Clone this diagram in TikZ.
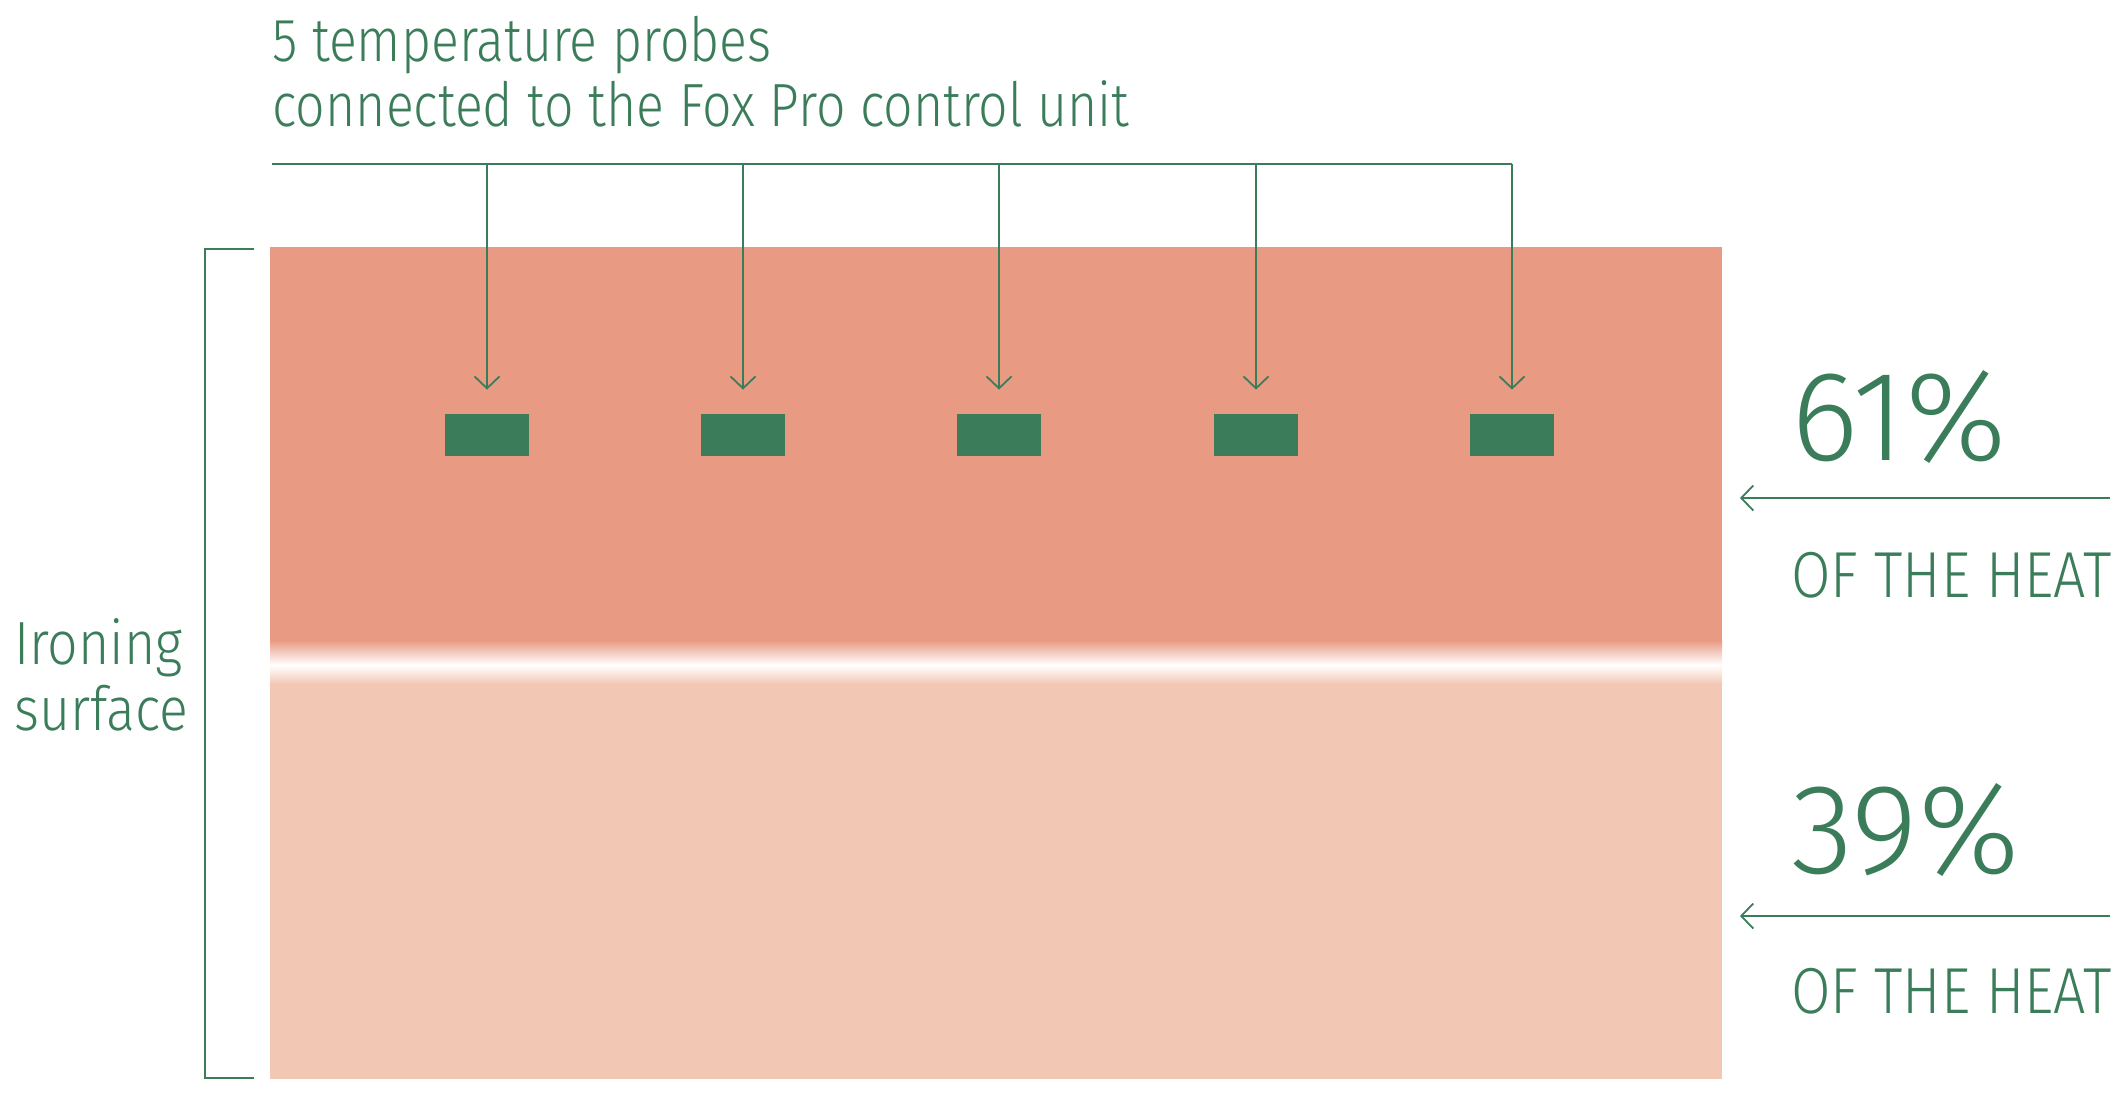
\documentclass[tikz,border=0pt]{standalone}
\usepackage{fontspec}
\setmainfont{Fira Sans Light}[FakeStretch=0.85]
\newfontfamily\surfacefont{Fira Sans Light}[FakeStretch=0.88]
\newfontfamily\sharefont{Fira Sans Light}
\usetikzlibrary{arrows.meta,positioning}
\definecolor{ProbeGreen}{HTML}{3B7D5A}
\definecolor{HotSalmon}{HTML}{E89A82}
\definecolor{WarmPeach}{HTML}{F2C8B5}

\begin{document}
\begin{tikzpicture}[
  x=0.5pt,
  y=-0.5pt,
  >={Straight Barb[length=6pt,width=12.5pt,line width=0.9pt]},
  probe/.style={
    fill=ProbeGreen,
    minimum width=42pt,
    minimum height=21pt,
    inner sep=0pt
  },
  wire/.style={draw=ProbeGreen,line width=0.9pt},
  feed/.style={wire,->,shorten >=9pt},
  label/.style={text=ProbeGreen,inner sep=0pt,anchor=base west,align=left},
  title/.style={label,font=\fontsize{30.5}{32.5}\selectfont},
  side/.style={label,font=\surfacefont\fontsize{30.5}{33}\selectfont},
  share/.style={label,font=\sharefont\fontsize{64}{64}\selectfont},
  heat/.style={label,font=\surfacefont\fontsize{32.5}{34}\selectfont}
]
\useasboundingbox (0,0) rectangle (2120,1094);

\coordinate (surfacetl) at (270,247);
\coordinate (surfacebr) at (1722,1079);

\fill[HotSalmon] (surfacetl) rectangle (1722,641);
\shade[top color=HotSalmon,bottom color=white] (270,640) rectangle (1722,665);
\shade[top color=white,bottom color=WarmPeach] (270,665) rectangle (1722,684);
\fill[WarmPeach] (270,683) rectangle (surfacebr);

\node[title] (probetext) at (272,126)
  {5 temperature probes\\connected to the Fox Pro control unit};

\coordinate (busstart) at (272,164);
\coordinate (busend) at (1512,164);
\draw[wire] (busstart) -- (busend);

\foreach \i/\x in {1/487,2/743,3/999,4/1256,5/1512}{
  \node[probe] (probe\i) at (\x,435) {};
  \draw[wire,->,shorten >=12pt] (probe\i |- busstart) -- (probe\i.north);
}

\draw[wire] (254,249) -- (205,249) -- (205,1078) -- (254,1078);
\node[side] (surfacetext) at (14,730) {Ironing\\surface};

\node[share] (topshare) at (1791,460) {61\%};
\coordinate (topfeed) at (2110,498);
\draw[feed] (topfeed) -- (surfacebr |- topfeed);
\node[heat] (topheat) at (1791,597) {OF THE HEAT};

\node[share] (bottomshare) at (1791,873) {39\%};
\coordinate (bottomfeed) at (2110,916);
\draw[feed] (bottomfeed) -- (surfacebr |- bottomfeed);
\node[heat] (bottomheat) at (1791,1013) {OF THE HEAT};
\end{tikzpicture}
\end{document}
